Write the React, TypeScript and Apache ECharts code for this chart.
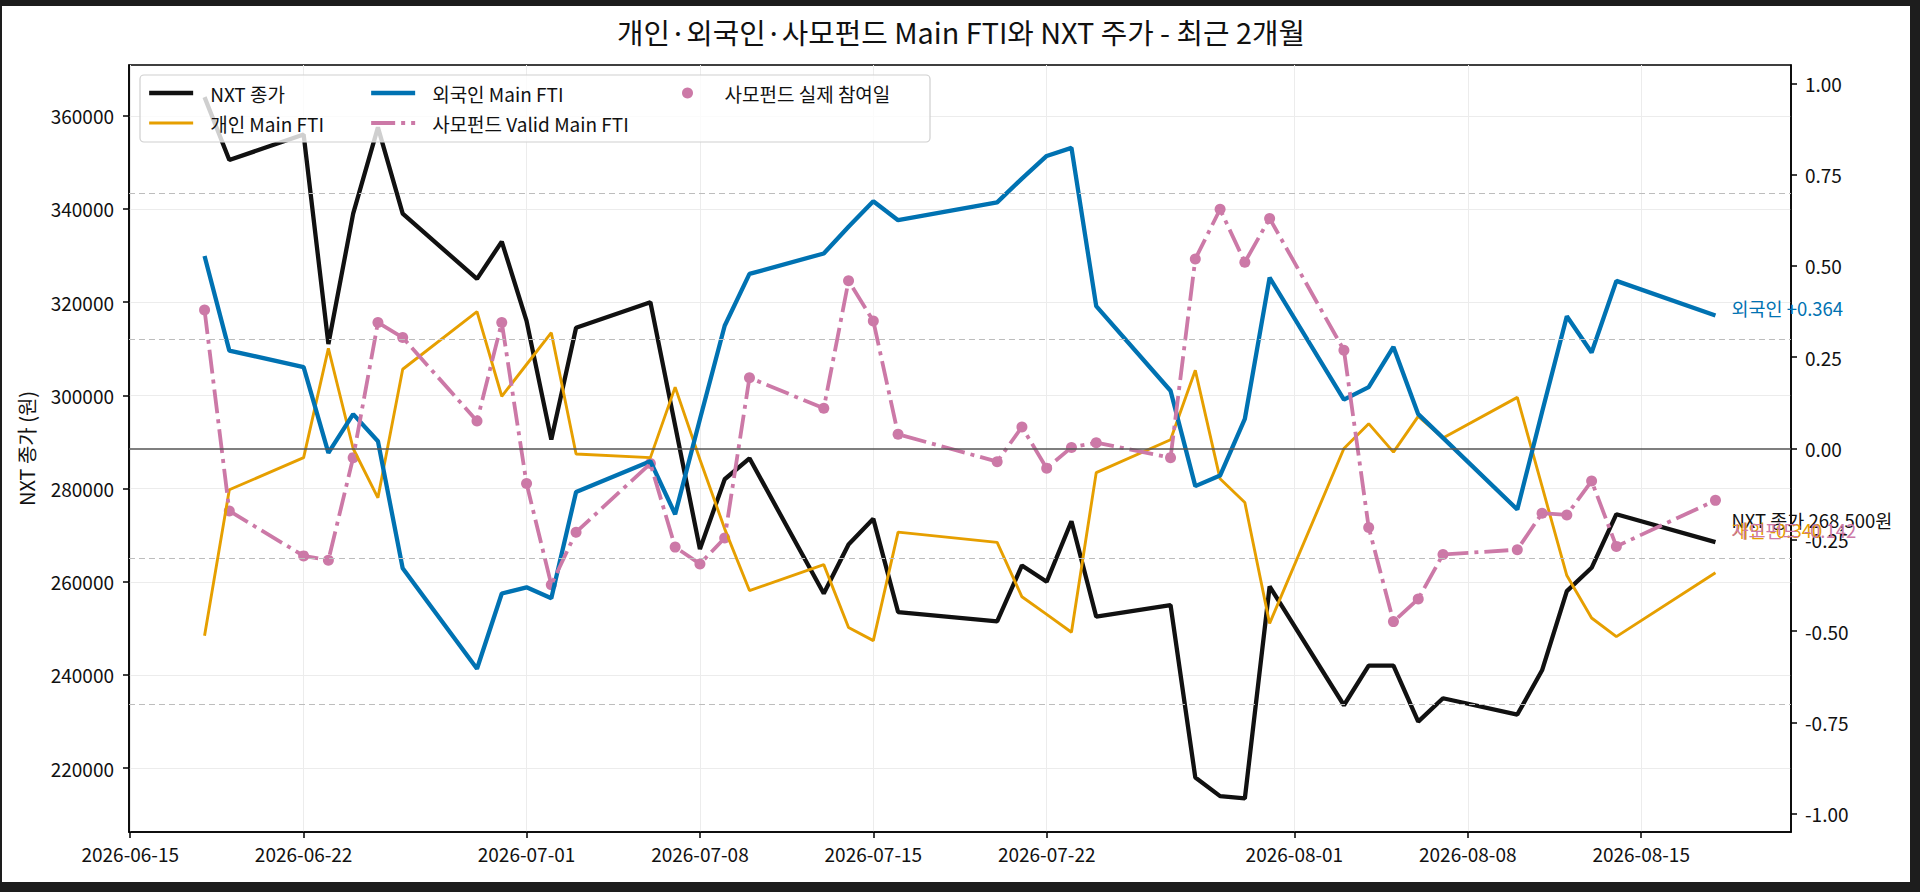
import React, { useEffect, useRef } from "react";
import * as echarts from "echarts";

const FONT = "'Noto Sans CJK KR', 'Noto Sans', sans-serif";

const titleText = "개인·외국인·사모펀드 Main FTI와 NXT 주가 - 최근 2개월";

const dates = [
  "2026-06-18", "2026-06-19", "2026-06-22", "2026-06-23", "2026-06-24", "2026-06-25", "2026-06-26",
  "2026-06-29", "2026-06-30", "2026-07-01", "2026-07-02", "2026-07-03", "2026-07-06", "2026-07-07",
  "2026-07-08", "2026-07-09", "2026-07-10", "2026-07-13", "2026-07-14", "2026-07-15", "2026-07-16",
  "2026-07-20", "2026-07-21", "2026-07-22", "2026-07-23", "2026-07-24", "2026-07-27", "2026-07-28",
  "2026-07-29", "2026-07-30", "2026-07-31", "2026-08-03", "2026-08-04", "2026-08-05", "2026-08-06",
  "2026-08-07", "2026-08-10", "2026-08-11", "2026-08-12", "2026-08-13", "2026-08-14", "2026-08-18",
];

const nxtClose = [
  364000, 350500, 356000, 311000, 339000, 357500, 339000,
  325000, 333000, 316000, 290500, 314500, 320000, 293500,
  267000, 282000, 286500, 257500, 268000, 273500, 253500,
  251500, 263500, 260000, 273000, 252500, 255000, 218000,
  214000, 213500, 259000, 233500, 242000, 242000, 230000,
  235000, 231500, 241000, 258000, 263000, 274500, 268500,
];

const retailFTI = [
  -0.513, -0.113, -0.025, 0.274, 0.0, -0.135, 0.217,
  0.375, 0.143, 0.23, 0.317, -0.015, -0.025, 0.168,
  -0.03, -0.22, -0.389, -0.318, -0.49, -0.526, -0.229,
  -0.257, -0.406, -0.454, -0.503, -0.066, 0.024, 0.214,
  -0.083, -0.148, -0.479, 0.0, 0.068, -0.01, 0.088,
  0.029, 0.14, -0.104, -0.348, -0.464, -0.515, -0.34,
];

const foreignFTI = [
  0.527, 0.268, 0.223, -0.012, 0.094, 0.02, -0.328,
  -0.603, -0.397, -0.38, -0.41, -0.119, -0.035, -0.18,
  0.08, 0.336, 0.478, 0.534, 0.607, 0.677, 0.625,
  0.674, 0.739, 0.801, 0.823, 0.39, 0.158, -0.103,
  -0.074, 0.081, 0.468, 0.134, 0.168, 0.278, 0.094,
  0.029, -0.167, 0.1, 0.362, 0.263, 0.459, 0.364,
];

const pefValidFTI = [
  0.379, -0.171, -0.294, -0.306, -0.025, 0.345, 0.304,
  0.075, 0.345, -0.096, -0.373, -0.229, -0.041, -0.27,
  -0.316, -0.245, 0.194, 0.11, 0.459, 0.349, 0.039,
  -0.036, 0.059, -0.054, 0.003, 0.016, -0.025, 0.519,
  0.655, 0.51, 0.63, 0.269, -0.216, -0.474, -0.412,
  -0.29, -0.277, -0.177, -0.182, -0.089, -0.268, -0.142,
];

const xTickLabels = [
  "2026-06-15", "2026-06-22", "2026-07-01", "2026-07-08", "2026-07-15",
  "2026-07-22", "2026-08-01", "2026-08-08", "2026-08-15",
];
const leftTicks = [220000, 240000, 260000, 280000, 300000, 320000, 340000, 360000];
const rightTicks = [-1, -0.75, -0.5, -0.25, 0, 0.25, 0.5, 0.75, 1];
const leftRange = [206300, 370900];
const rightRange = [-1.05, 1.05];
const refLevels = [0.7, 0.3, -0.3, -0.7];

const C_BLACK = "#111111";
const C_ORANGE = "#E69F00";
const C_BLUE = "#0072B2";
const C_PINK = "#CC79A7";

function ts(s: string) {
  const [y, m, d] = s.split("-").map(Number);
  return Date.UTC(y, m - 1, d);
}
function fmtDate(v: number) {
  const d = new Date(v);
  const mm = String(d.getUTCMonth() + 1).padStart(2, "0");
  const dd = String(d.getUTCDate()).padStart(2, "0");
  return `${d.getUTCFullYear()}-${mm}-${dd}`;
}
function signed(v: number) {
  return (v >= 0 ? "+" : "-") + Math.abs(v).toFixed(3);
}

export default function App() {
  const ref = useRef<HTMLDivElement>(null);

  useEffect(() => {
    if (!ref.current) return;
    const chart = echarts.init(ref.current, null, { renderer: "svg" });
    const xs = dates.map(ts);
    const span = xs[xs.length - 1] - xs[0];
    const xMin = xs[0] - span * 0.05;
    const xMax = xs[xs.length - 1] + span * 0.05;
    const xTicks = xTickLabels.map(ts);
    const pair = (arr: number[]) => xs.map((x, i) => [x, arr[i]]);

    const tickText = { fontSize: 19, fontFamily: FONT, color: "#111" };
    const axisLineStyle = { color: "#000", width: 1.5 };
    const gridLine = { show: true, lineStyle: { color: "#ececec", width: 1 } };
    const legendText = { fontSize: 19, fontFamily: FONT, color: "#111", lineHeight: 20, padding: [0, 0, 0, 10] };
    const endLabelBase = { show: true, fontSize: 18.5, fontFamily: FONT, distance: 0 };
    const lineLegendBase = {
      orient: "vertical",
      top: 77,
      z: 20,
      padding: 0,
      itemWidth: 44,
      itemHeight: 14,
      itemGap: 10,
      selectedMode: false,
      textStyle: { ...legendText, padding: [0, 0, 0, 12] },
      itemStyle: { opacity: 0 },
      lineStyle: { width: "inherit", type: "inherit", cap: "butt" },
    };

    chart.setOption({
      animation: false,
      backgroundColor: "#ffffff",
      title: {
        text: titleText,
        left: 959,
        top: 11,
        padding: 0,
        textAlign: "center",
        textStyle: { fontSize: 28.8, fontWeight: "normal", fontFamily: FONT, color: "#111" },
      },
      grid: {
        left: 127,
        top: 59,
        width: 1662,
        height: 767,
        show: true,
        borderColor: "#000",
        borderWidth: 1.5,
        backgroundColor: "transparent",
        containLabel: false,
      },
      legend: [
        { ...lineLegendBase, data: ["NXT 종가", "개인 Main FTI"], left: 145 },
        { ...lineLegendBase, data: ["외국인 Main FTI", "사모펀드 Valid Main FTI"], left: 367 },
        {
          data: [{ name: "사모펀드 실제 참여일", icon: "circle" }],
          orient: "vertical",
          left: 680,
          top: 77,
          z: 20,
          padding: 0,
          itemWidth: 46,
          itemHeight: 11,
          itemGap: 10,
          selectedMode: false,
          textStyle: { ...legendText, padding: [0, 0, 0, 9] },
        },
      ],
      graphic: [
        {
          type: "rect",
          z: 10,
          zlevel: 0,
          shape: { x: 138, y: 69, width: 790, height: 67, r: 4 },
          style: { fill: "rgba(255,255,255,0.8)", stroke: "#cfcfcf", lineWidth: 1.2 },
          silent: true,
        },
      ],
      xAxis: {
        type: "value",
        min: xMin,
        max: xMax,
        axisLine: { show: true, onZero: false, lineStyle: axisLineStyle },
        axisTick: { show: true, customValues: xTicks, length: 6, lineStyle: axisLineStyle },
        axisLabel: { customValues: xTicks, formatter: fmtDate, margin: 12, ...tickText },
        splitLine: gridLine,
      },
      yAxis: [
        {
          type: "value",
          position: "left",
          min: leftRange[0],
          max: leftRange[1],
          name: "NXT 종가 (원)",
          nameLocation: "middle",
          nameGap: 93,
          nameTextStyle: { fontSize: 20, fontFamily: FONT, color: "#111" },
          axisLine: { show: true, onZero: false, lineStyle: axisLineStyle },
          axisTick: { show: true, customValues: leftTicks, length: 6, lineStyle: axisLineStyle },
          axisLabel: { customValues: leftTicks, formatter: (v: number) => String(v), margin: 15, ...tickText },
          splitLine: gridLine,
        },
        {
          type: "value",
          position: "right",
          min: rightRange[0],
          max: rightRange[1],
          axisLine: { show: true, onZero: false, lineStyle: axisLineStyle },
          axisTick: { show: true, customValues: rightTicks, length: 6, lineStyle: axisLineStyle },
          axisLabel: { customValues: rightTicks, formatter: (v: number) => v.toFixed(2), margin: 14, ...tickText },
          splitLine: { show: false },
        },
      ],
      series: [
        {
          name: "NXT 종가",
          type: "line",
          yAxisIndex: 0,
          data: pair(nxtClose),
          symbol: "none",
          lineStyle: { color: C_BLACK, width: 4.3 },
          itemStyle: { color: C_BLACK },
          endLabel: {
            ...endLabelBase,
            color: C_BLACK,
            offset: [16, -22],
            formatter: (p: any) => `NXT 종가 ${Number(p.value[1]).toLocaleString("en-US")}원`,
          },
        },
        {
          name: "개인 Main FTI",
          type: "line",
          yAxisIndex: 1,
          data: pair(retailFTI),
          symbol: "none",
          lineStyle: { color: C_ORANGE, width: 2.9 },
          itemStyle: { color: C_ORANGE },
          endLabel: {
            ...endLabelBase,
            color: C_ORANGE,
            offset: [16, -43],
            formatter: (p: any) => `개인 ${signed(p.value[1])}`,
          },
          markLine: {
            silent: true,
            symbol: "none",
            label: { show: false },
            animation: false,
            data: [
              { yAxis: 0, lineStyle: { color: "#555", width: 1.5, type: "solid" } },
              ...refLevels.map((v) => ({ yAxis: v, lineStyle: { color: "#bdbdbd", width: 1.2, type: [6, 4] } })),
            ],
          },
        },
        {
          name: "외국인 Main FTI",
          type: "line",
          yAxisIndex: 1,
          data: pair(foreignFTI),
          symbol: "none",
          lineStyle: { color: C_BLUE, width: 4.3 },
          itemStyle: { color: C_BLUE },
          endLabel: {
            ...endLabelBase,
            color: C_BLUE,
            offset: [16, -8],
            formatter: (p: any) => `외국인 ${signed(p.value[1])}`,
          },
        },
        {
          name: "사모펀드 Valid Main FTI",
          type: "line",
          yAxisIndex: 1,
          data: pair(pefValidFTI),
          symbol: "none",
          lineStyle: { color: C_PINK, width: 3.8, type: [24, 6, 4, 6] },
          itemStyle: { color: C_PINK },
          endLabel: {
            ...endLabelBase,
            color: C_PINK,
            offset: [16, 30],
            formatter: (p: any) => `사모펀드 ${signed(p.value[1])}`,
          },
        },
        {
          name: "사모펀드 실제 참여일",
          type: "scatter",
          yAxisIndex: 1,
          data: pair(pefValidFTI),
          symbol: "circle",
          symbolSize: 11,
          itemStyle: { color: C_PINK, opacity: 1 },
        },
      ],
    });
    return () => chart.dispose();
  }, []);

  return (
    <div style={{ position: "fixed", left: 0, top: 0, width: 1920, height: 892, background: "#1d1d1d" }}>
      <div
        ref={ref}
        style={{ position: "absolute", left: 2, top: 6, width: 1908, height: 876, background: "#fff" }}
      />
    </div>
  );
}
